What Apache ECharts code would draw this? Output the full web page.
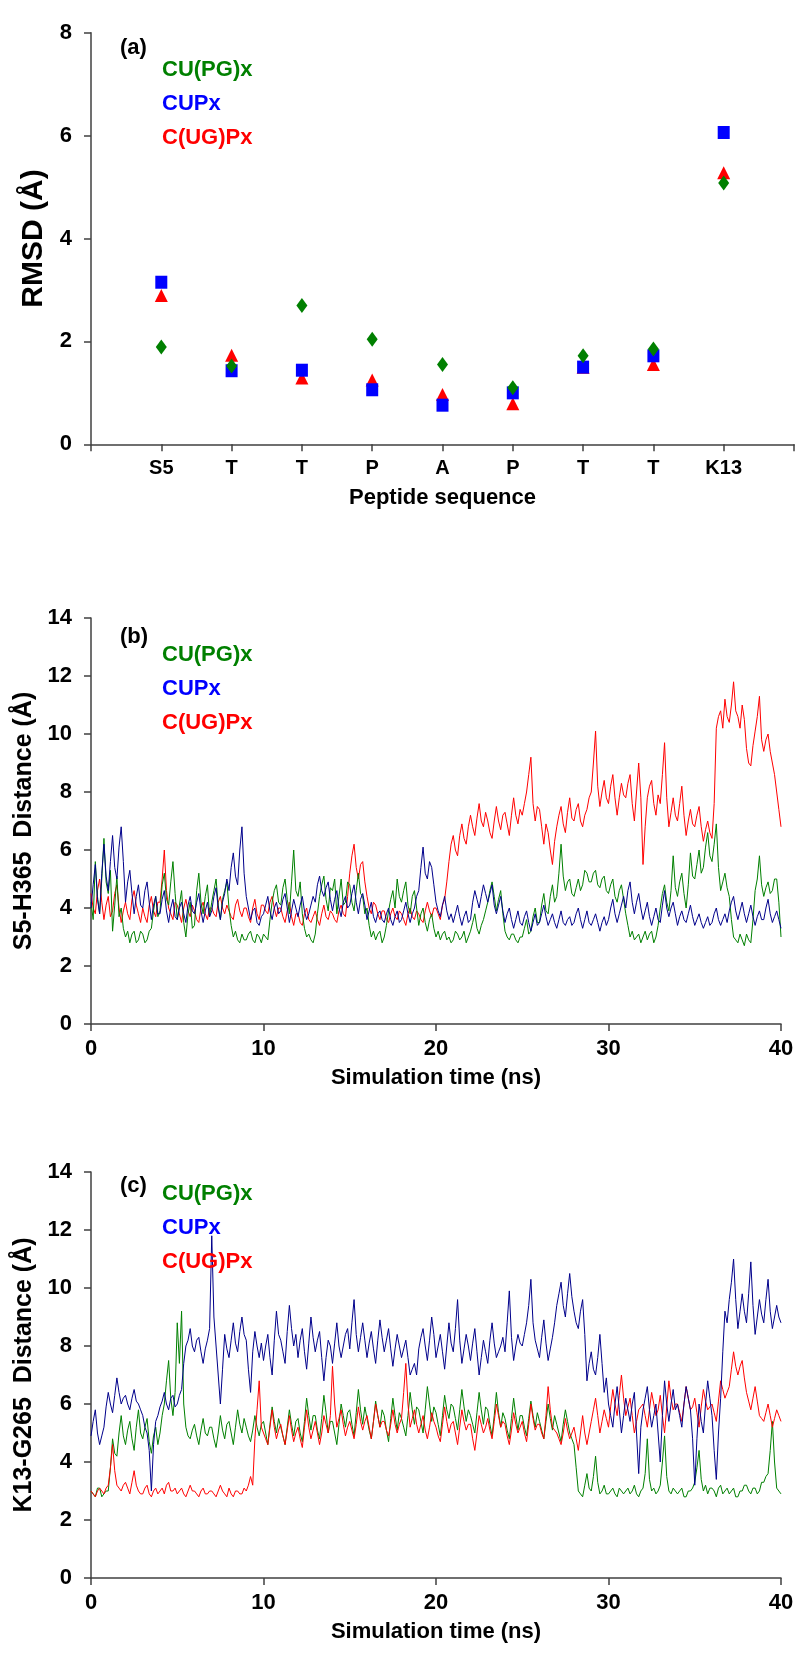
<!DOCTYPE html>
<html>
<head>
<meta charset="utf-8">
<script src="https://cdn.jsdelivr.net/npm/echarts@6/dist/echarts.min.js"></script>
<style>html,body{margin:0;padding:0;background:#fff}#chart{width:800px;height:1662px}</style>
</head>
<body>
<div id="chart"></div>
<script>
// ---------- Panel (a): RMSD per residue ----------
const peptideLabels = ['S5', 'T', 'T', 'P', 'A', 'P', 'T', 'T', 'K13'];
const rmsdCUPGx = [1.89, 1.52, 2.70, 2.04, 1.55, 1.10, 1.72, 1.85, 5.08];
const rmsdCUPx  = [3.15, 1.43, 1.44, 1.06, 0.76, 1.00, 1.50, 1.72, 6.06];
const rmsdCUGPx = [2.89, 1.73, 1.29, 1.25, 0.97, 0.79, 1.50, 1.55, 5.28];

// ---------- Time series sampling (ns) ----------
const timeStep = 0.125; // one value every 0.125 ns, 0..40 ns (8 values per row = 1 ns)

// ---------- Panel (b): S5-H365 distance ----------
const s5CUPGx = [
 4.2,3.6,5.6,4.4,3.8,5.0,6.4,4.9,  4.5,5.3,3.2,4.1,5.1,3.7,4.0,3.3,
 3.0,3.2,2.8,3.1,3.2,2.8,2.9,3.2,  3.1,2.8,2.9,3.2,3.3,3.9,4.4,3.7,
 3.9,4.8,5.2,4.3,4.1,4.9,5.6,4.5,  3.6,4.1,4.6,3.5,3.0,3.8,4.2,3.3,
 3.4,4.6,5.2,4.2,3.8,4.4,4.8,3.7,  4.2,4.6,5.0,4.1,3.6,4.3,4.6,4.9,
 4.0,3.4,3.0,3.2,2.9,2.8,3.1,2.9,  2.9,3.1,3.2,2.9,2.8,3.1,3.0,2.8,
 3.1,3.0,2.9,3.6,4.2,4.6,4.8,4.2,  4.1,4.7,5.0,4.3,3.8,4.9,6.0,4.6,
 4.4,4.9,3.8,3.3,3.0,3.1,2.9,2.8,  3.1,3.8,4.4,4.8,5.1,4.3,3.9,4.7,
 4.6,5.0,3.8,4.4,5.0,4.1,4.2,4.9,  4.8,4.2,3.9,4.6,5.2,4.5,4.4,3.8,
 4.0,3.4,3.0,3.2,2.9,3.1,3.2,2.8,  3.0,3.4,3.9,4.3,4.6,4.0,5.0,4.4,
 4.2,4.6,4.9,4.1,3.8,4.4,4.6,4.0,  3.4,3.8,4.0,3.5,3.2,3.6,3.8,3.3,
 3.0,3.2,2.9,3.1,3.2,2.9,3.0,2.8,  2.9,3.2,3.1,2.9,3.0,3.2,2.8,3.0,
 3.2,3.5,3.8,3.3,3.1,3.4,3.6,3.9,  4.2,4.6,4.9,4.4,3.9,4.3,4.6,3.8,
 3.2,3.0,2.9,3.1,3.1,2.9,2.8,3.0,  3.0,3.3,3.6,3.1,3.2,3.7,4.0,3.5,
 3.5,4.1,4.5,3.9,3.8,4.4,4.8,4.2,  4.4,5.2,6.2,5.1,4.6,4.9,5.0,4.5,
 4.4,4.7,5.0,4.6,4.8,5.3,5.2,4.9,  4.9,5.2,5.3,4.8,4.7,5.0,5.1,4.6,
 4.5,4.8,5.0,4.4,4.2,4.6,4.8,4.3,  3.8,3.4,3.0,3.2,2.9,3.0,3.1,2.8,
 3.0,3.2,2.9,3.1,3.2,2.8,3.0,3.4,  4.0,4.5,4.8,4.2,3.9,4.6,5.8,4.7,
 4.4,4.9,5.2,4.5,4.0,4.8,5.9,5.1,  5.0,5.5,6.0,5.2,5.4,6.1,6.6,5.8,
 5.6,6.2,6.9,5.4,4.6,4.9,5.2,4.7,  4.4,3.6,3.0,2.9,2.8,3.1,2.9,2.7,
 3.1,2.9,2.8,3.6,4.6,5.0,5.8,4.8,  4.4,4.7,4.9,4.5,4.6,5.0,5.0,4.2,
 3.0];
const s5CUPx = [
 4.0,4.8,5.5,4.3,3.8,5.2,6.2,5.1,  4.6,5.6,6.5,5.4,5.0,6.1,6.8,5.6,
 4.2,4.9,5.3,4.5,3.8,4.4,4.8,4.1,  4.0,4.6,4.9,4.2,3.6,4.1,4.4,3.8,
 3.8,4.3,4.6,3.9,3.5,4.0,4.3,3.7,  3.6,4.0,4.2,3.8,3.5,4.1,4.4,3.9,
 3.8,4.2,4.5,3.9,3.5,3.9,4.2,3.7,  3.9,4.4,4.7,4.0,3.6,4.2,4.5,5.0,
 4.6,5.4,5.9,5.1,4.8,6.0,6.8,5.2,  4.4,4.0,3.6,3.9,4.0,3.5,3.4,3.7,
 3.8,4.1,4.4,3.9,3.6,4.0,4.2,3.8,  3.9,4.3,4.5,4.0,3.5,3.9,4.3,4.0,
 3.7,4.1,4.4,3.9,3.6,3.8,4.1,4.4,  4.2,4.8,5.1,4.6,4.4,4.7,4.9,4.3,
 3.9,4.3,4.6,4.0,3.7,4.2,4.4,4.0,  4.1,4.5,4.8,4.2,3.8,4.3,4.5,4.1,
 3.6,3.9,4.2,3.7,3.5,3.8,3.9,3.6,  3.5,3.8,4.0,3.6,3.4,3.7,3.9,3.5,
 3.6,3.9,4.2,3.8,3.5,3.8,4.0,4.4,  4.6,5.4,6.1,5.2,5.0,5.6,5.4,4.8,
 4.2,3.9,3.7,4.1,4.4,3.9,3.6,3.8,  3.5,3.8,4.1,3.7,3.4,3.7,3.9,3.5,
 3.6,4.2,4.6,4.3,4.0,4.4,4.8,4.5,  4.2,4.5,4.8,4.1,3.8,4.1,4.4,3.9,
 3.5,3.8,4.0,3.6,3.3,3.6,3.9,3.5,  3.4,3.7,3.9,3.5,3.2,3.5,3.8,3.4,
 3.5,3.8,4.1,3.7,3.4,3.6,3.8,3.5,  3.3,3.6,3.9,3.5,3.4,3.6,3.7,3.4,
 3.5,3.8,4.0,3.6,3.3,3.6,3.9,3.5,  3.4,3.6,3.8,3.5,3.2,3.5,3.7,3.4,
 3.6,4.0,4.3,3.8,3.5,3.8,4.1,4.4,  4.0,4.6,4.9,4.2,3.8,4.2,4.5,4.0,
 3.6,3.9,4.2,3.7,3.4,3.7,4.0,3.6,  3.5,4.1,4.6,4.0,3.7,4.0,4.2,3.8,
 3.4,3.7,3.9,3.6,3.5,3.8,4.1,3.7,  3.4,3.6,3.8,3.5,3.3,3.5,3.7,3.4,
 3.5,3.8,4.0,3.6,3.4,3.6,3.8,3.5,  3.9,4.2,4.4,3.9,3.6,3.9,4.2,3.8,
 3.5,3.8,4.1,3.7,3.4,3.7,3.9,3.6,  3.6,4.0,4.3,3.8,3.5,3.7,3.9,3.6,
 3.3];
const s5CUGPx = [
 4.5,4.0,3.8,4.6,5.0,4.2,3.6,4.1,  4.4,3.7,3.9,4.5,4.8,4.0,3.5,3.9,
 4.2,3.8,3.6,4.3,4.6,4.1,3.8,3.5,  4.0,3.7,3.5,4.1,4.4,3.9,3.7,4.2,
 4.2,5.0,6.0,4.6,4.0,3.8,3.6,4.2,  4.1,3.8,3.5,4.0,4.3,3.9,3.7,4.1,
 3.9,3.6,3.5,4.0,4.2,3.8,3.6,4.0,  4.0,3.8,3.7,4.2,4.4,4.0,3.8,4.1,
 3.9,3.7,3.6,4.1,4.3,3.9,3.7,4.0,  4.0,3.7,3.5,4.0,4.3,3.8,3.6,4.1,
 4.1,3.9,3.8,4.2,4.4,4.0,3.7,4.0,  4.0,3.7,3.5,3.9,4.2,3.7,3.4,3.8,
 3.8,3.5,3.4,3.8,4.0,3.6,3.5,3.7,  3.9,3.6,3.4,3.8,4.1,3.7,3.6,3.9,
 3.8,3.6,3.5,3.9,4.1,3.8,3.7,4.4,  5.2,5.8,6.2,5.4,5.0,5.5,5.6,4.9,
 4.4,4.0,3.8,4.2,4.1,3.8,3.6,3.9,  3.9,3.6,3.5,3.8,4.0,3.7,3.6,3.9,
 3.8,3.6,3.4,3.8,4.0,3.7,3.6,3.9,  3.8,3.6,3.5,3.9,4.2,3.9,3.7,4.0,
 4.0,3.8,3.6,4.1,4.3,4.9,5.6,6.2,  6.5,6.0,5.8,6.5,6.9,6.4,6.2,6.8,
 7.2,6.8,6.5,7.1,7.6,7.0,6.8,7.3,  7.0,6.6,6.4,7.0,7.5,7.0,6.7,7.2,
 7.3,6.9,6.5,7.2,7.8,7.2,6.9,7.4,  7.2,7.6,8.0,8.6,9.2,7.6,7.0,7.5,
 7.4,6.8,6.2,6.9,6.6,6.0,5.5,6.3,  6.8,7.2,7.5,6.9,6.6,7.3,7.8,7.1,
 7.0,7.4,7.6,7.0,6.8,7.2,7.4,7.8,  8.0,9.0,10.1,8.2,7.5,8.0,8.4,7.8,
 7.6,8.2,8.6,7.8,7.2,7.8,8.3,7.9,  7.8,8.3,8.6,7.6,7.0,8.0,9.0,7.8,
 5.5,6.8,7.8,8.2,8.4,7.6,7.2,7.9,  7.6,8.6,9.7,7.8,6.8,7.3,7.8,7.2,
 7.0,7.6,8.2,7.2,6.5,7.0,7.4,6.9,  6.8,7.2,7.5,6.8,6.3,6.7,7.0,6.6,
 6.4,7.6,10.2,10.6,10.8,10.2,11.2,10.6,  10.4,11.0,11.8,10.8,10.6,10.2,11.0,10.5,
 9.5,9.0,8.9,9.6,10.1,10.6,11.3,9.8,  9.4,9.8,10.0,9.4,9.0,8.6,8.0,7.4,
 6.8];

// ---------- Panel (c): K13-G265 distance ----------
const k13CUPGx = [
 3.0,2.9,2.8,3.1,3.1,2.8,2.9,3.0,  3.0,3.8,4.8,4.3,4.2,5.0,5.6,4.9,
 4.6,5.1,5.4,4.8,4.4,5.2,5.8,5.0,  4.8,5.2,5.5,4.7,4.3,4.9,5.2,4.6,
 5.0,5.6,6.0,6.8,7.5,6.2,5.6,6.4,  8.8,7.4,9.2,6.0,5.2,4.9,4.8,5.1,
 5.3,4.9,4.6,5.1,5.5,5.0,4.9,5.2,  5.2,4.8,4.5,5.0,5.6,5.1,4.8,5.3,
 5.4,5.0,4.6,5.2,5.8,5.3,5.0,5.5,  5.2,4.9,4.7,5.1,5.6,5.2,4.9,5.3,
 5.4,5.0,4.6,5.3,5.9,5.4,5.0,5.5,  5.2,4.9,4.6,5.2,5.8,5.3,4.9,5.4,
 5.5,5.0,4.7,5.4,6.2,5.6,5.1,5.6,  5.6,5.1,4.8,5.5,6.3,5.7,5.0,5.4,
 5.4,5.0,4.6,5.3,6.0,5.6,5.2,5.7,  5.8,5.3,4.9,5.7,6.5,5.8,5.3,5.9,
 5.5,5.1,4.8,5.4,6.1,5.6,5.2,5.8,  5.6,5.1,4.7,5.5,6.2,5.6,5.1,5.7,
 5.5,5.2,4.9,5.6,6.4,5.8,5.3,5.9,  5.8,5.4,5.0,5.8,6.6,6.0,5.4,5.9,
 5.7,5.3,4.9,5.6,6.3,5.8,5.5,6.0,  5.9,5.5,5.1,5.8,6.5,5.9,5.4,5.8,
 5.6,5.3,5.0,5.7,6.4,5.8,5.3,5.9,  5.8,5.3,4.9,5.6,6.4,5.7,5.2,5.7,
 5.5,5.1,4.8,5.5,6.2,5.6,5.1,5.6,  5.6,5.2,4.9,5.5,6.1,5.6,5.2,5.7,
 5.4,5.1,4.8,5.4,6.0,5.5,5.1,5.6,  5.3,5.0,4.7,5.3,5.8,5.4,5.0,4.8,
 4.6,3.8,3.0,2.9,2.8,3.2,3.6,3.1,  3.0,3.5,4.2,3.3,2.9,3.0,3.2,2.9,
 2.9,3.0,3.1,2.9,2.8,3.1,3.0,2.9,  3.0,3.1,2.9,3.0,3.2,2.9,2.8,3.0,
 3.1,3.6,4.8,3.4,3.0,3.1,2.9,3.0,  3.2,4.0,4.9,3.5,3.0,2.9,3.1,3.0,
 2.9,3.0,3.1,2.8,2.8,3.0,3.0,3.1,  3.3,3.8,4.4,3.4,3.0,3.2,2.9,3.1,
 3.1,3.0,2.8,3.1,3.2,2.9,3.0,3.1,  2.9,3.0,3.1,2.8,2.8,3.0,3.0,3.2,
 3.2,3.0,2.9,3.1,3.1,2.9,3.0,3.3,  3.3,3.5,3.6,4.4,5.4,4.0,3.1,3.0,
 2.9];
const k13CUPx = [
 4.9,5.4,5.8,5.0,4.6,4.9,5.2,5.9,  6.4,6.0,5.7,6.3,6.9,6.4,6.0,6.2,
 6.3,6.0,5.8,6.2,6.5,6.1,6.0,5.8,  5.6,5.2,5.0,4.4,3.0,4.6,5.4,5.6,
 5.9,6.1,6.4,6.0,5.8,6.2,6.3,5.9,  6.0,6.3,6.5,7.4,8.0,8.2,8.6,8.0,
 7.8,8.2,8.3,7.8,7.4,7.9,8.2,8.6,  11.8,9.0,8.0,7.0,6.0,7.2,8.4,7.9,
 7.6,8.2,8.8,8.1,7.8,8.5,9.0,8.4,  8.2,7.2,6.4,7.8,8.5,8.0,7.6,8.1,
 7.5,8.0,8.4,7.6,7.0,8.2,9.2,8.4,  8.2,7.8,7.4,8.5,9.4,8.6,8.0,8.4,
 7.6,8.2,8.6,7.8,7.2,8.1,9.0,8.3,  7.8,8.2,8.5,7.6,6.8,7.6,8.2,8.0,
 7.4,8.1,8.8,8.0,7.6,8.0,8.4,8.6,  7.9,8.8,9.6,8.4,7.8,8.3,8.8,8.2,
 7.6,8.1,8.5,7.9,7.4,8.2,8.9,8.3,  7.8,8.2,8.6,7.9,7.3,7.9,8.4,8.0,
 7.6,7.9,8.2,7.6,7.0,7.2,7.4,7.0,  7.9,8.3,8.6,8.0,7.5,8.2,9.0,8.4,
 7.6,8.0,8.4,7.8,7.2,8.0,8.8,8.1,  7.8,8.6,9.6,8.2,7.4,7.9,8.4,8.0,
 7.5,8.1,8.6,7.8,7.0,7.6,8.2,7.8,  7.4,8.2,8.8,8.1,7.6,7.8,8.0,8.3,
 7.8,8.8,9.9,8.3,7.5,8.0,8.4,8.1,  8.0,8.4,8.8,9.4,10.3,8.8,8.2,7.9,
 7.6,8.3,8.9,8.1,7.5,7.9,8.3,8.8,  9.4,9.8,10.2,9.4,9.0,9.8,10.5,9.7,
 9.2,8.8,8.6,9.2,9.6,8.4,6.8,7.4,  7.8,7.2,7.0,7.6,8.4,7.4,6.4,6.9,
 6.0,5.6,5.2,6.0,6.6,5.8,5.0,5.6,  6.2,5.8,5.4,6.0,6.4,5.0,3.6,5.2,
 5.8,6.2,6.6,5.8,5.2,5.6,6.0,5.0,  4.0,5.6,6.8,6.0,5.4,6.0,6.5,5.8,
 6.0,5.6,5.2,6.0,6.6,6.2,5.8,4.8,  3.2,4.8,6.0,5.4,5.0,6.0,6.8,6.2,
 5.6,4.4,3.4,5.0,6.2,7.8,9.2,8.8,  9.6,10.2,11.0,9.6,8.6,9.2,9.8,9.2,
 8.8,9.8,10.9,9.4,8.4,9.0,9.6,9.1,  8.8,9.6,10.3,9.2,8.6,9.0,9.4,9.0,
 8.8];
const k13CUGPx = [
 3.0,2.9,2.8,3.0,3.1,3.0,2.9,3.1,  3.2,3.8,4.6,3.7,3.2,3.1,3.0,3.2,
 3.3,3.1,2.9,3.3,3.7,3.2,3.0,2.9,  2.9,3.1,3.2,2.9,2.8,3.0,3.1,2.9,
 3.0,3.1,2.9,3.2,3.3,3.0,3.0,3.1,  2.9,3.0,3.1,2.9,2.8,3.0,3.2,3.0,
 3.0,2.9,2.8,3.0,3.1,2.9,2.9,3.0,  3.0,2.9,2.8,3.0,3.2,3.0,2.9,2.8,
 3.1,2.9,2.8,3.0,3.0,2.9,2.9,3.1,  3.0,3.2,3.5,3.2,4.8,5.8,6.8,5.2,
 5.0,4.8,4.6,5.2,5.8,5.2,4.8,5.1,  5.3,4.9,4.6,5.1,5.6,5.1,4.7,5.0,
 5.2,4.8,4.5,5.2,5.8,5.2,4.8,5.1,  5.4,5.0,4.6,5.0,5.6,5.3,5.0,5.6,
 7.3,6.0,5.2,5.5,5.8,5.3,4.9,5.2,  5.4,5.1,4.8,5.3,5.9,5.4,5.1,5.4,
 5.6,5.2,4.8,5.4,6.0,5.6,5.2,5.4,  5.4,5.1,4.9,5.3,5.8,5.3,5.0,5.3,
 5.5,6.4,7.4,6.0,5.2,5.5,5.8,5.3,  5.0,5.3,5.6,5.1,4.8,5.2,5.7,5.4,
 5.2,4.9,4.7,5.3,5.9,5.4,5.0,5.3,  5.4,5.0,4.6,5.2,5.8,5.4,5.1,5.3,
 5.3,4.8,4.4,5.0,5.6,5.3,5.0,5.2,  5.5,5.1,4.8,5.4,6.0,5.6,5.2,5.4,
 5.3,4.9,4.6,5.1,5.7,5.3,5.0,5.2,  5.4,5.0,4.7,5.3,6.0,5.5,5.1,5.3,
 5.3,5.0,4.8,5.6,6.6,5.8,5.2,5.1,  5.0,4.8,4.6,5.0,5.5,5.1,4.8,5.0,
 5.2,4.8,4.4,5.0,5.6,5.0,4.6,5.0,  5.4,5.8,6.2,5.6,5.0,5.4,5.8,5.5,
 5.2,5.9,6.5,6.0,5.6,6.3,7.0,6.2,  5.6,5.9,6.2,5.6,5.0,5.4,5.8,5.9,
 6.0,5.6,5.2,5.8,6.4,6.0,5.6,5.8,  6.3,5.6,5.0,5.9,6.8,6.2,5.8,6.0,
 6.0,5.7,5.4,6.0,6.6,6.2,5.8,5.9,  6.2,5.7,5.2,5.9,6.5,6.1,5.8,5.9,
 6.0,5.7,5.4,6.1,6.8,6.5,6.2,6.4,  6.6,7.2,7.8,7.3,7.0,7.3,7.5,6.9,
 6.4,6.1,5.8,6.2,6.6,6.1,5.6,5.5,  5.4,5.7,6.0,5.6,5.2,5.5,5.8,5.6,
 5.4];

const seriesNames = ['CU(PG)x', 'CUPx', 'C(UG)Px'];
const panelTags = ['(a)', '(b)', '(c)'];
const timeTicks = [0, 10, 20, 30, 40];

// ---------- styling ----------
const FONT = 'Liberation Sans, Arial, Helvetica, sans-serif';
const AX = '#404040';
const GREEN = '#008000', BLUE = '#0000FF', NAVY = '#00008B', RED = '#FF0000';

const toPairs = arr => arr.map((v, i) => [i * timeStep, v]);
const catPairs = arr => arr.map((v, i) => [i + 1, v]);

function axisCommon() {
  return {
    axisLine: { show: true, lineStyle: { color: AX, width: 1.5 } },
    axisTick: { show: true, inside: false, length: 7, lineStyle: { color: AX, width: 1.5 } },
    splitLine: { show: false },
  };
}
const tickFont = { fontFamily: FONT, fontWeight: 'bold', color: '#000' };

const grids = [
  { left: 91, top: 32.7, width: 703, height: 411.6 },
  { left: 91, top: 618, width: 690, height: 406 },
  { left: 91, top: 1172, width: 690, height: 406 },
];

const xAxes = [
  Object.assign(axisCommon(), {
    gridIndex: 0, type: 'value', min: 0, max: 10, interval: 1,
    axisLabel: Object.assign({ fontSize: 20, margin: 14, formatter: v => peptideLabels[v - 1] || '' }, tickFont),
    name: 'Peptide sequence', nameLocation: 'middle', nameGap: 43,
    nameTextStyle: Object.assign({ fontSize: 22 }, tickFont),
  }),
];
for (let k = 1; k <= 2; k++) {
  xAxes.push(Object.assign(axisCommon(), {
    gridIndex: k, type: 'value', min: timeTicks[0], max: timeTicks[timeTicks.length - 1], interval: timeTicks[1] - timeTicks[0],
    axisLabel: Object.assign({ fontSize: 22, margin: 14 }, tickFont),
    name: 'Simulation time (ns)', nameLocation: 'middle', nameGap: 43,
    nameTextStyle: Object.assign({ fontSize: 22 }, tickFont),
  }));
}

const yNames = ['RMSD (Å)', 'S5-H365  Distance (Å)', 'K13-G265  Distance (Å)'];
const yAxes = [
  Object.assign(axisCommon(), {
    gridIndex: 0, type: 'value', min: 0, max: 8, interval: 2,
    axisLabel: Object.assign({ fontSize: 22, margin: 19 }, tickFont),
    name: yNames[0], nameLocation: 'middle', nameGap: 41,
    nameTextStyle: Object.assign({ fontSize: 30 }, tickFont),
  }),
];
for (let k = 1; k <= 2; k++) {
  yAxes.push(Object.assign(axisCommon(), {
    gridIndex: k, type: 'value', min: 0, max: 14, interval: 2,
    axisLabel: Object.assign({ fontSize: 22, margin: 19 }, tickFont),
    name: yNames[k], nameLocation: 'middle', nameGap: 41,
    nameTextStyle: Object.assign({ fontSize: 25 }, tickFont),
  }));
}

const legendTops = [59, 644, 1183];
const tagTops = [37, 626, 1175];
const legendColors = [GREEN, BLUE, RED];

const legends = legendTops.map(t => ({
  left: 157, top: t, orient: 'vertical', padding: 0,
  itemWidth: 0, itemHeight: 22, itemGap: 12, selectedMode: false,
  icon: 'rect',
  textStyle: { fontFamily: FONT, fontWeight: 'bold', fontSize: 22, lineHeight: 22 },
  data: seriesNames.map((n, i) => ({ name: n, textStyle: { color: legendColors[i] } })),
}));

const titles = panelTags.map((t, i) => ({
  text: t, left: 120, top: tagTops[i], padding: 0,
  textStyle: { fontFamily: FONT, fontWeight: 'bold', fontSize: 22, color: '#000' },
}));

function lineSeries(name, data, color, k) {
  return {
    name, type: 'line', xAxisIndex: k, yAxisIndex: k, data: toPairs(data),
    showSymbol: false, symbol: 'none', lineStyle: { color, width: 1 }, itemStyle: { color },
    animation: false,
  };
}

const series = [
  { name: seriesNames[2], type: 'scatter', xAxisIndex: 0, yAxisIndex: 0, data: catPairs(rmsdCUGPx),
    symbol: 'triangle', symbolSize: [13, 13], itemStyle: { color: RED, opacity: 1 } },
  { name: seriesNames[1], type: 'scatter', xAxisIndex: 0, yAxisIndex: 0, data: catPairs(rmsdCUPx),
    symbol: 'rect', symbolSize: [12, 13], itemStyle: { color: BLUE, opacity: 1 } },
  { name: seriesNames[0], type: 'scatter', xAxisIndex: 0, yAxisIndex: 0, data: catPairs(rmsdCUPGx),
    symbol: 'diamond', symbolSize: [11, 15], itemStyle: { color: GREEN, opacity: 1 } },

  lineSeries(seriesNames[2], s5CUGPx, RED, 1),
  lineSeries(seriesNames[0], s5CUPGx, GREEN, 1),
  lineSeries(seriesNames[1], s5CUPx, NAVY, 1),

  lineSeries(seriesNames[0], k13CUPGx, GREEN, 2),
  lineSeries(seriesNames[2], k13CUGPx, RED, 2),
  lineSeries(seriesNames[1], k13CUPx, NAVY, 2),
];

const chart = echarts.init(document.getElementById('chart'), null, { renderer: 'canvas' });
chart.setOption({
  animation: false,
  backgroundColor: '#fff',
  title: titles,
  legend: legends,
  grid: grids,
  xAxis: xAxes,
  yAxis: yAxes,
  series,
});
</script>
</body>
</html>
